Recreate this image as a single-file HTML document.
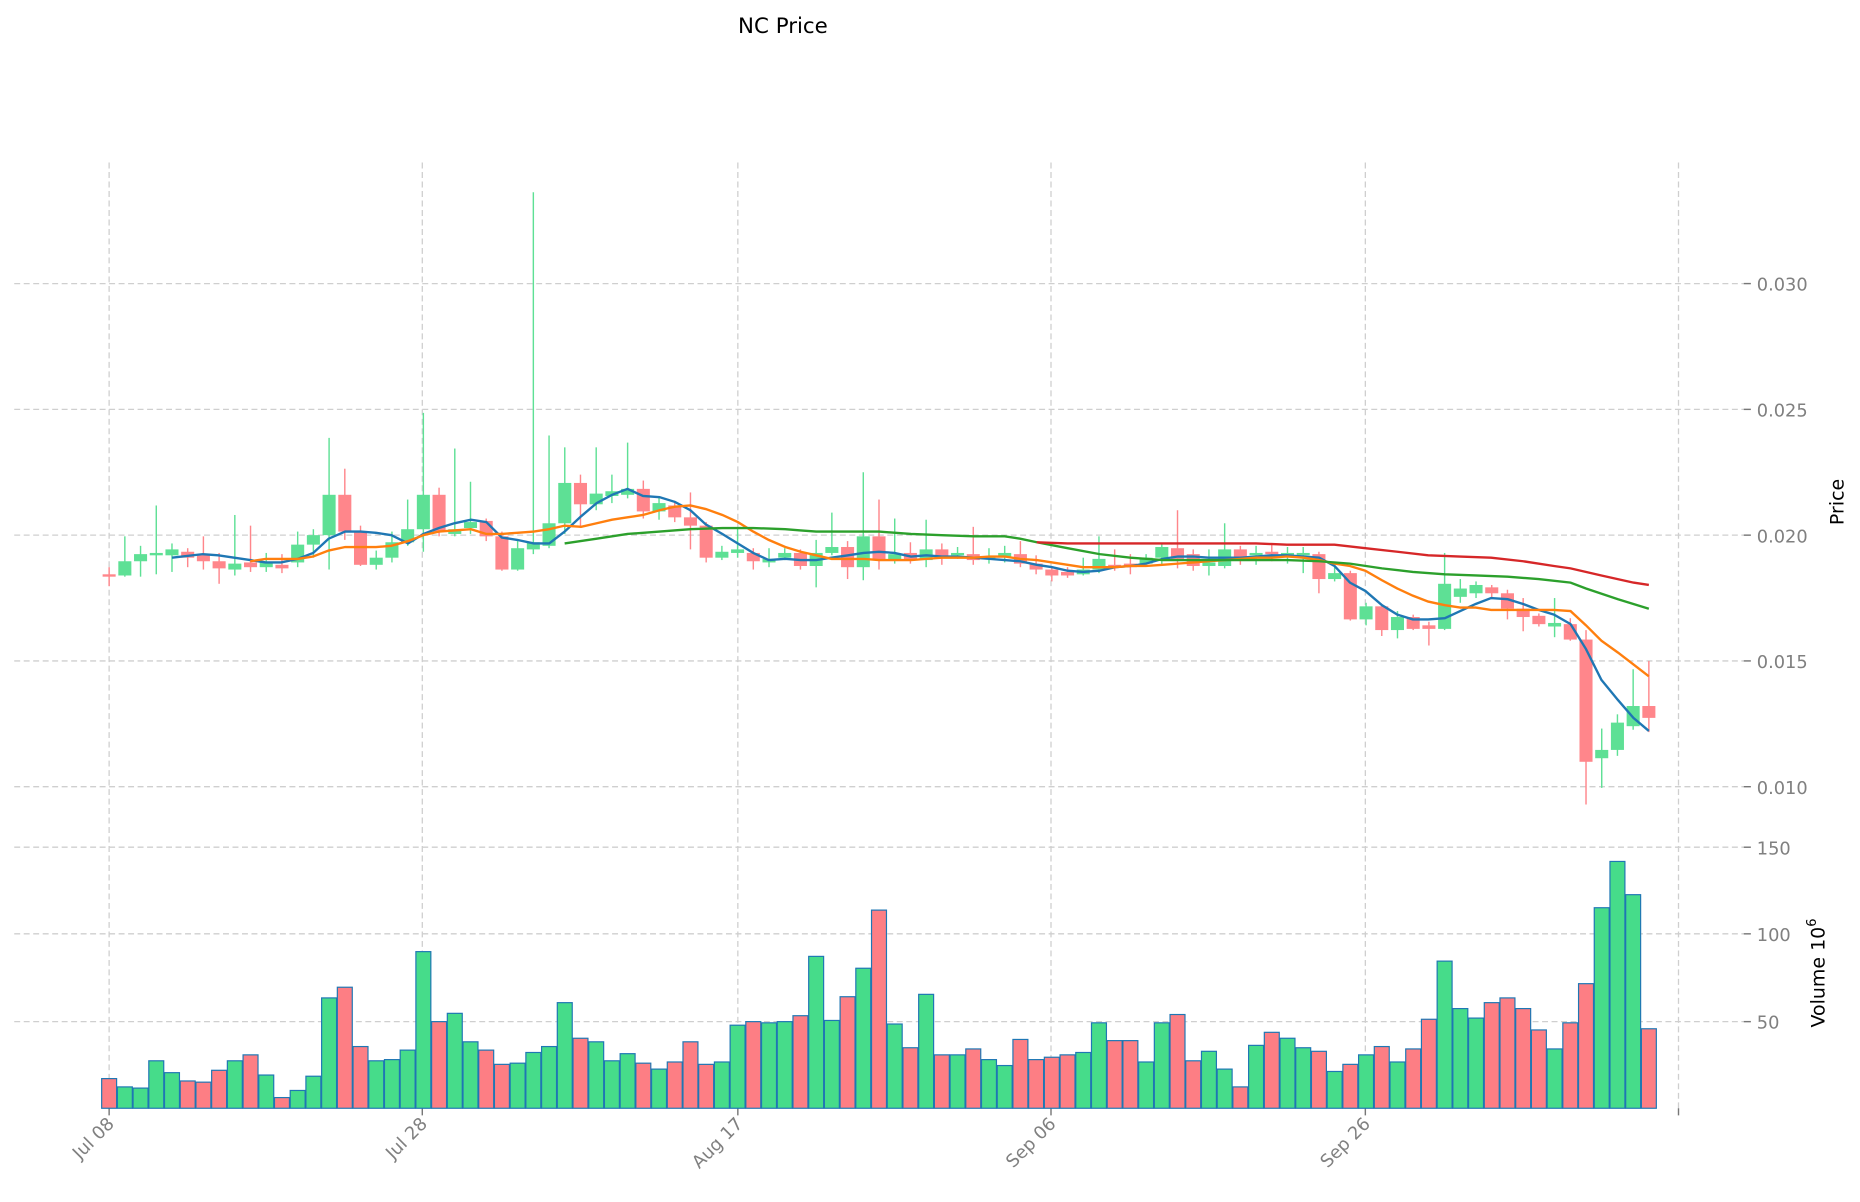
<!DOCTYPE html>
<html><head><meta charset="utf-8"><style>
html,body{margin:0;padding:0;background:#fff;}
svg{display:block;}
</style></head><body>
<svg id="c" width="1860" height="1202" viewBox="0 0 1568 1013" preserveAspectRatio="none" xmlns="http://www.w3.org/2000/svg" font-family="'DejaVu Sans','Liberation Sans',sans-serif">
<rect width="1568" height="1013" fill="#fff"/>
<g id="grid" stroke="#cfcfcf" stroke-width="1.1" stroke-dasharray="5,3" fill="none">
<line x1="12" y1="239" x2="1470" y2="239"/><line x1="12" y1="345" x2="1470" y2="345"/><line x1="12" y1="451" x2="1470" y2="451"/><line x1="12" y1="557" x2="1470" y2="557"/><line x1="12" y1="663" x2="1470" y2="663"/>
<line x1="12" y1="714" x2="1470" y2="714"/><line x1="12" y1="787" x2="1470" y2="787"/><line x1="12" y1="861" x2="1470" y2="861"/>
<line x1="92" y1="137" x2="92" y2="934"/><line x1="356" y1="137" x2="356" y2="934"/><line x1="622" y1="137" x2="622" y2="934"/><line x1="886" y1="137" x2="886" y2="934"/><line x1="1151" y1="137" x2="1151" y2="934"/><line x1="1415" y1="137" x2="1415" y2="934"/>
</g>
<g stroke="#777" stroke-width="1.2">
<line x1="1470" y1="239" x2="1476" y2="239"/><line x1="1470" y1="345" x2="1476" y2="345"/><line x1="1470" y1="451" x2="1476" y2="451"/><line x1="1470" y1="557" x2="1476" y2="557"/><line x1="1470" y1="663" x2="1476" y2="663"/>
<line x1="1470" y1="714" x2="1476" y2="714"/><line x1="1470" y1="787" x2="1476" y2="787"/><line x1="1470" y1="861" x2="1476" y2="861"/>
<line x1="92" y1="934" x2="92" y2="940"/><line x1="356" y1="934" x2="356" y2="940"/><line x1="622" y1="934" x2="622" y2="940"/><line x1="886" y1="934" x2="886" y2="940"/><line x1="1151" y1="934" x2="1151" y2="940"/><line x1="1415" y1="934" x2="1415" y2="940"/>
</g>
<g fill="#808080" font-size="15">
<text x="1481" y="245">0.030</text><text x="1481" y="351">0.025</text><text x="1481" y="457">0.020</text><text x="1481" y="563">0.015</text><text x="1481" y="669">0.010</text>
<text x="1481" y="720">150</text><text x="1481" y="793">100</text><text x="1481" y="867">50</text>
<text transform="translate(97,948) rotate(-45)" text-anchor="end">Jul 08</text>
<text transform="translate(361,948) rotate(-45)" text-anchor="end">Jul 28</text>
<text transform="translate(627,948) rotate(-45)" text-anchor="end">Aug 17</text>
<text transform="translate(891,948) rotate(-45)" text-anchor="end">Sep 06</text>
<text transform="translate(1156,948) rotate(-45)" text-anchor="end">Sep 26</text>
</g>
<text x="660" y="28" font-size="18" text-anchor="middle" fill="#000">NC Price</text>
<text transform="translate(1554,423) rotate(-90)" font-size="16" text-anchor="middle" fill="#000">Price</text>
<text transform="translate(1538,820) rotate(-90)" font-size="16" text-anchor="middle" fill="#000">Volume  10<tspan dy="-7" font-size="11">6</tspan></text>
<g id="vol"></g>
<g id="cdl"></g>
<g id="ma" fill="none" stroke-width="2"></g>
</svg>
<script>
var C=[
['r',484,486,478,494],['g',473,485,452,486],['g',467,473,460,486],['g',466,468,426,484],['g',463,468,458,482],
['r',465,470,462,478],['r',467,473,452,480],['r',473,479,466,492],['g',475,480,434,485],['r',474,478,443,482],
['g',474,478,466,482],['r',476,479,467,483],['g',459,474,448,478],['g',451,459,446,470],['g',417,451,369,480],
['r',417,448,395,455],['r',448,476,443,477],['g',470,476,464,480],['g',457,470,448,474],['g',446,457,421,460],
['g',417,446,348,465],['r',417,448,411,452],['g',446,450,378,452],['g',440,445,406,450],['r',439,452,437,456],
['r',452,480,448,481],['g',462,480,456,481],['g',457,463,162,467],['g',441,460,367,462],['g',407,441,377,450],
['r',407,425,400,445],['g',416,425,377,430],['g',414,418,400,424],['g',412,417,373,420],['r',412,431,405,437],
['g',424,431,419,438],['r',426,436,422,440],['r',436,443,415,463],['r',443,470,440,474],['g',465,470,460,472],
['g',463,466,445,470],['r',466,473,462,480],['g',471,474,462,478],['g',466,470,462,472],['r',466,477,463,480],
['g',466,477,455,495],['g',461,466,432,468],['r',461,478,456,488],['g',452,478,398,489],['r',452,472,421,480],
['g',467,472,437,475],['r',466,472,457,475],['g',463,472,438,478],['r',463,470,458,476],['g',466,468,461,471],
['r',467,472,444,476],['g',469,471,462,475],['g',466,469,460,474],['r',467,475,456,478],['r',475,480,468,484],
['r',480,485,477,490],['r',482,485,478,487],['g',480,484,470,485],['g',471,480,452,483],['r',476,478,463,481],
['r',475,478,467,484],['g',470,475,467,476],['g',461,470,458,476],['r',462,471,430,479],['r',467,477,463,481],
['g',474,477,463,485],['g',463,477,441,479],['r',463,470,460,476],['g',466,468,460,476],['r',465,467,458,473],
['g',466,468,461,475],['g',466,468,461,483],['r',467,488,465,500],['g',483,488,476,490],['r',483,522,481,523],
['g',511,522,508,527],['r',511,531,509,536],['g',520,531,515,538],['r',520,530,518,531],['r',527,530,524,544],
['g',492,530,466,531],['g',496,503,488,508],['g',493,500,490,504],['r',495,500,493,504],['r',500,513,497,522],
['r',513,520,504,532],['r',519,526,517,528],['g',525,528,504,537],['r',526,539,521,540],['r',539,642,531,678],
['g',632,639,614,664],['g',609,632,602,637],['g',595,612,564,615],['r',595,605,557,617]];
var V=[909,916,917,894,904,911,912,902,894,889,906,925,919,907,841,832,882,894,893,885,802,861,854,878,885,897,896,887,882,845,875,878,894,888,896,901,895,878,897,895,864,861,862,861,856,806,860,840,816,767,863,883,838,889,889,884,893,898,876,893,891,889,887,862,877,877,895,862,855,894,886,901,916,881,870,875,883,886,903,897,889,882,895,884,859,810,850,858,845,841,850,868,884,862,829,765,726,754,867];
var NS='http://www.w3.org/2000/svg';
function el(p,t,a){var e=document.createElementNS(NS,t);for(var k in a)e.setAttribute(k,a[k]);p.appendChild(e);return e;}
var cg=document.getElementById('cdl'),vg=document.getElementById('vol'),mg=document.getElementById('ma');
var GC='#5ee095',RC='#ff868b',GV='#46dc8a',RV='#fd7e84';
for(var i=0;i<C.length;i++){var x=92+i*13.245,c=C[i],col=c[0]=='g'?GC:RC;
el(cg,'line',{x1:x,x2:x,y1:c[3],y2:c[4],stroke:col,'stroke-width':1.2});
el(cg,'rect',{x:x-5.5,y:c[1],width:11,height:Math.max(1.5,c[2]-c[1]),fill:col});
el(vg,'rect',{x:x-6.3,y:V[i],width:12.6,height:934-V[i],fill:c[0]=='g'?GV:RV,stroke:'#1f77b4','stroke-width':1});}
var M={
'#1f77b4':[[145,470],[171,467],[184,468],[211,472],[224,474],[237,474],[251,471],[264,466],[277,454],[291,448],[304,448],[317,449],[330,451],[344,458],[357,450],[370,445],[383,441],[397,438],[410,440],[423,453],[436,455],[450,458],[463,458],[476,448],[490,435],[503,424],[516,417],[529,412],[542,418],[556,419],[569,423],[582,430],[595,442],[609,450],[622,458],[635,466],[648,472],[662,471],[675,472],[688,472],[701,470],[715,468],[728,466],[741,465],[754,466],[768,469],[781,468],[794,469],[807,469],[821,470],[834,471],[847,472],[860,473],[874,476],[887,478],[900,481],[913,482],[927,481],[940,478],[953,477],[966,475],[980,471],[993,469],[1006,469],[1019,470],[1033,470],[1046,470],[1059,469],[1072,468],[1085,468],[1099,469],[1112,470],[1125,477],[1138,491],[1151,498],[1165,510],[1178,518],[1191,522],[1204,522],[1218,521],[1231,515],[1244,509],[1257,504],[1271,505],[1284,509],[1297,514],[1310,518],[1324,526],[1337,547],[1350,573],[1364,590],[1377,605],[1390,616]],
'#ff7f0e':[[211,473],[224,471],[237,471],[251,471],[264,469],[277,464],[291,461],[304,461],[317,461],[330,460],[344,456],[357,451],[370,448],[383,447],[397,446],[410,450],[423,450],[436,449],[450,448],[463,446],[476,443],[490,444],[503,441],[516,438],[529,436],[542,434],[556,430],[569,427],[582,426],[595,429],[609,434],[622,440],[635,448],[648,455],[662,461],[675,465],[688,468],[701,471],[715,471],[728,471],[741,472],[754,472],[768,472],[781,471],[794,470],[807,470],[821,470],[834,469],[847,469],[860,471],[874,472],[887,474],[900,476],[913,478],[927,478],[940,478],[953,477],[966,477],[980,476],[993,475],[1006,474],[1019,473],[1033,472],[1046,471],[1059,470],[1072,470],[1085,469],[1099,470],[1112,472],[1125,475],[1138,477],[1151,481],[1165,489],[1178,496],[1191,502],[1204,507],[1218,510],[1231,512],[1244,512],[1257,514],[1271,514],[1284,514],[1297,514],[1310,514],[1324,515],[1337,527],[1350,540],[1364,550],[1377,560],[1390,570]],
'#2ca02c':[[476,458],[503,454],[529,450],[556,448],[582,446],[609,445],[635,445],[662,446],[675,447],[688,448],[715,448],[741,448],[768,450],[794,451],[821,452],[847,452],[860,454],[874,457],[900,462],[927,467],[953,470],[980,472],[1006,472],[1033,472],[1059,472],[1085,472],[1112,473],[1138,475],[1165,479],[1191,482],[1218,484],[1244,485],[1271,486],[1297,488],[1324,491],[1337,496],[1364,505],[1390,513]],
'#d62728':[[874,457],[900,458],[927,458],[953,458],[980,458],[1006,458],[1033,458],[1059,458],[1085,459],[1112,459],[1125,459],[1151,462],[1178,465],[1204,468],[1231,469],[1257,470],[1284,473],[1310,477],[1324,479],[1350,485],[1377,491],[1390,493]]};
for(var k in M){el(mg,'polyline',{points:M[k].map(function(p){return p.join(',')}).join(' '),stroke:k});}
</script>
</body></html>
